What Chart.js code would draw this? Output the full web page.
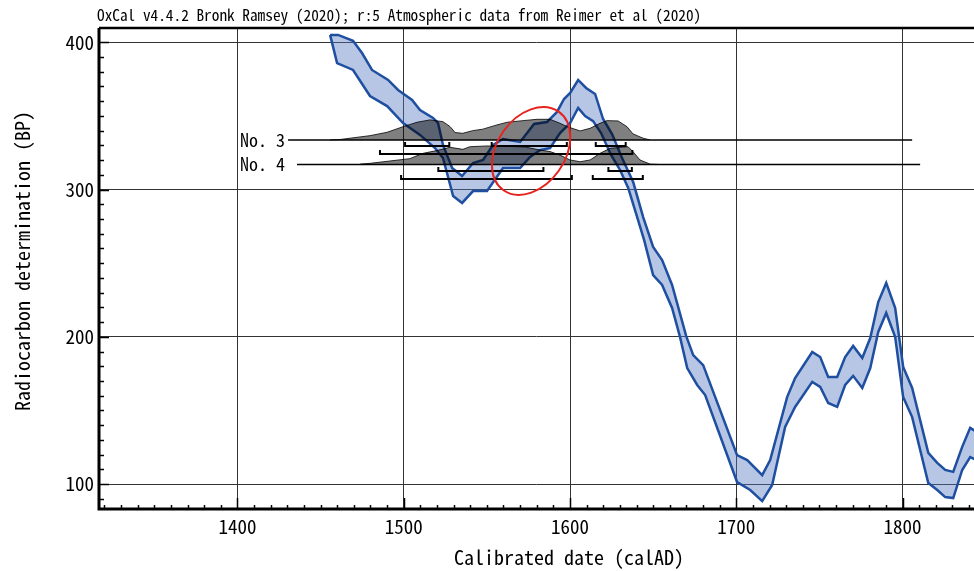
<!DOCTYPE html>
<html>
<head>
<meta charset="utf-8">
<script src="https://cdn.jsdelivr.net/npm/chart.js@4.4.1/dist/chart.umd.min.js"></script>
<style>
  html, body { margin: 0; padding: 0; background: #fff; }
  #wrap { width: 974px; height: 571px; }
</style>
</head>
<body>
<div id="wrap"><canvas id="oxcal" width="974" height="571"></canvas></div>
<script>
// calibration curve (IntCal20), upper and lower edge of the band
const upperYears = [1455.7,1460.5,1469.5,1474.9,1480.9,1490.6,1496.6,1505,1509.8,1517.6,1520.6,1523.6,1529.1,1535.1,1541.7,1547.7,1553.7,1559.7,1570,1578.4,1586.2,1592.2,1596.4,1600.1,1604.9,1609.7,1615.1,1619.9,1625.3,1631.3,1638,1644,1650,1655.4,1661.4,1669.9,1674.1,1680.1,1700.5,1706.6,1715.6,1720.4,1730.6,1735.4,1745.7,1750.5,1755.3,1760.7,1765.5,1770.3,1775.8,1780.6,1785.4,1790.2,1795.6,1800.4,1805.8,1815.5,1820.9,1825.7,1830.5,1835.9,1840.7,1844.4];
const upperBP = [405,405,401,392.7,381.2,374.4,367.6,360.8,354,348.6,345.2,330.3,314.6,309.2,318,320.1,330.3,334.3,332.3,344.5,345.9,352.7,361.5,365.6,374.4,369,364.9,347.9,337.7,321.4,305.1,281.3,261,252.1,235.2,200.5,187.6,180.8,119.7,116.3,106.1,116.3,159.1,172,189.7,186.3,172.7,172.7,186.3,193.8,185.6,199.2,223.6,236.6,219.6,179.5,165.3,121.2,114.4,109.6,108.3,125.3,138.2,135.5];
const lowerYears = [1455.7,1459.9,1469.5,1479.7,1490,1499.6,1509.8,1518.8,1523.6,1529.7,1535.1,1541.7,1550.1,1559.7,1570,1576,1582,1588,1594,1600.1,1604.9,1609.1,1613.9,1618.7,1624.7,1630.1,1635,1640.4,1644.6,1650,1655.4,1661.4,1666.2,1670.5,1676.5,1681.3,1700.5,1708.4,1715.6,1721.6,1729.4,1735.4,1745.7,1750.5,1755.3,1760.7,1765.5,1770.3,1775.8,1780.6,1785.4,1790.2,1795.6,1800.4,1805.8,1815.5,1820.9,1825.7,1830.5,1835.9,1840.7,1844.4];
const lowerBP = [405,385.9,381.2,363.5,356.7,345.2,337.1,328.2,321.4,295.6,290.9,299,299,314.6,314.6,322.1,326.8,328.2,338.4,345.2,355.4,349.9,346.5,338.4,323.5,313.3,301.1,281.3,265.7,241.9,235.2,219.6,199.8,178.8,167.3,160.5,101.4,96,88.5,99.4,138.8,152.4,169.4,166,155.1,152.4,167.3,173.5,165.3,178.8,203.3,216.2,199.8,159.1,145.5,100.7,96,91.2,90.5,109.6,118.4,116.3];

// samples
const sampleNames = ["No. 3", "No. 4"];
const sampleBP = [333.7, 317.0];
const sampleLineFrom = [1430.4, 1435.8];
const sampleLineTo = [1805.8, 1810.6];

// calibrated distributions (height in BP units above the sample line)
const no3Years = [1455.7,1461.7,1479.7,1490,1499.6,1508,1515.8,1523.6,1527.9,1530.9,1535.5,1541.5,1547.5,1556.1,1562.2,1571.8,1580.2,1588,1594,1598.3,1606.1,1612.1,1618.1,1622.3,1628.9,1634.3,1637.9,1643.9,1648.1];
const no3Prob = [0,0.3,2.9,5.2,9.0,12.0,13.6,12.4,9.0,5.0,4.5,6.3,7.3,10.2,12.0,13.1,14.0,14.0,11.3,9.0,6.1,7.9,11.3,13.1,12.9,9.0,4.1,1.2,0];
const no4Years = [1473.8,1479.7,1491.7,1503.7,1511.6,1520,1527.8,1535.6,1539.8,1550,1562.2,1573,1582,1588,1594,1600,1606.1,1612.1,1618.1,1624.1,1634.9,1637.9,1642.1,1648.1,1654.1];
const no4Prob = [0.3,0.8,2.4,4.0,7.6,9.5,11.7,10.3,12.1,12.6,12.3,11.9,9.8,8.8,6.4,3.1,1.9,3.1,7.6,11.0,12.1,8.7,3.1,0.3,0];

// 68.2% and 95.4% ranges (calAD)
const no3Range68 = [[1500.8,1527.4],[1552.9,1598.1],[1615.5,1633.5]];
const no3Range95 = [[1485.7,1637.5]];
const no4Range68 = [[1520.8,1584.0],[1623.1,1637.2]];
const no4Range95 = [[1498.4,1601.1],[1613.7,1643.8]];

// highlighted region (red ellipse centre)
const markYear = 1576.6;
const markBP = 326.2;

const xTicks = [1400, 1500, 1600, 1700, 1800];
const yTicks = [100, 200, 300, 400];

const FONT = "'Noto Sans Mono CJK JP', 'DejaVu Sans Mono', monospace";
const CURVE = "#1f4fa0";

function pts(xs, ys, base) {
  return xs.map((v, i) => ({ x: v, y: (base || 0) + ys[i] }));
}

const ranges68 = [no3Range68, no4Range68];
const ranges95 = [no3Range95, no4Range95];

const decor = {
  id: "decor",
  afterDatasetsDraw(chart) {
    const { ctx, chartArea: a, scales: { x, y } } = chart;
    ctx.save();
    ctx.beginPath();
    ctx.rect(a.left, a.top, a.right - a.left, a.bottom - a.top);
    ctx.clip();

    // range brackets
    ctx.strokeStyle = "#000";
    ctx.lineWidth = 2;
    sampleBP.forEach((bp, i) => {
      const base = y.getPixelForValue(bp);
      [[ranges68[i], 6], [ranges95[i], 14]].forEach(([list, off]) => {
        list.forEach(r => {
          const x0 = x.getPixelForValue(r[0]);
          const x1 = x.getPixelForValue(r[1]);
          const yy = Math.round(base + off);
          ctx.beginPath();
          ctx.moveTo(x0, yy - 4);
          ctx.lineTo(x0, yy);
          ctx.lineTo(x1, yy);
          ctx.lineTo(x1, yy - 4);
          ctx.stroke();
        });
      });
    });

    // sample labels
    ctx.fillStyle = "#000";
    ctx.font = "18px " + FONT;
    ctx.textAlign = "right";
    ctx.textBaseline = "middle";
    sampleBP.forEach((bp, i) => {
      ctx.fillText(sampleNames[i], 285, y.getPixelForValue(bp));
    });

    // red ellipse
    ctx.strokeStyle = "#e6231e";
    ctx.lineWidth = 2;
    ctx.beginPath();
    ctx.ellipse(x.getPixelForValue(markYear), y.getPixelForValue(markBP), 34, 48, 35 * Math.PI / 180, 0, Math.PI * 2);
    ctx.stroke();
    ctx.restore();
  },
  afterDraw(chart) {
    const { ctx, chartArea: a, scales: { x, y } } = chart;
    ctx.save();
    ctx.strokeStyle = "#000";

    // minor ticks
    ctx.lineWidth = 1.5;
    for (let v = 1320; v <= 1840; v += 10) {
      const px = Math.round(x.getPixelForValue(v)) + 0.5;
      const len = v % 100 === 0 ? 11 : 4;
      ctx.beginPath();
      ctx.moveTo(px, a.bottom);
      ctx.lineTo(px, a.bottom - len);
      ctx.stroke();
    }
    for (let v = 90; v <= 400; v += 10) {
      const py = Math.round(y.getPixelForValue(v)) + 0.5;
      const len = v % 100 === 0 ? 10 : 5;
      ctx.beginPath();
      ctx.moveTo(a.left, py);
      ctx.lineTo(a.left + len, py);
      ctx.stroke();
    }

    // frame
    ctx.lineWidth = 3;
    ctx.beginPath();
    ctx.moveTo(a.left, a.top);
    ctx.lineTo(a.left, a.bottom);
    ctx.lineTo(a.right, a.bottom);
    ctx.stroke();
    ctx.lineWidth = 2.5;
    ctx.beginPath();
    ctx.moveTo(a.left, a.top);
    ctx.lineTo(a.right, a.top);
    ctx.stroke();

    // texts
    ctx.fillStyle = "#000";
    ctx.textBaseline = "middle";
    ctx.font = "15.3px " + FONT;
    ctx.textAlign = "left";
    ctx.fillText("OxCal v4.4.2 Bronk Ramsey (2020); r:5 Atmospheric data from Reimer et al (2020)", 97, 15);
    ctx.font = "20px " + FONT;
    ctx.textAlign = "center";
    ctx.fillText("Calibrated date (calAD)", 569, 557);
    ctx.translate(22, 261);
    ctx.rotate(-Math.PI / 2);
    ctx.fillText("Radiocarbon determination (BP)", 0, 0);
    ctx.restore();
  }
};

const datasets = [
  {
    data: pts(upperYears, upperBP),
    borderColor: CURVE, borderWidth: 2.5, pointRadius: 0, fill: false, order: 3
  },
  {
    data: pts(lowerYears, lowerBP),
    borderColor: CURVE, borderWidth: 2.5, pointRadius: 0,
    fill: "-1", backgroundColor: "rgba(80,120,190,0.42)", order: 3
  }
];
[[no3Years, no3Prob], [no4Years, no4Prob]].forEach(([xs, ps], i) => {
  datasets.push({
    data: pts(xs, ps, sampleBP[i]),
    borderColor: "rgba(0,0,0,0.8)", borderWidth: 1, pointRadius: 0,
    fill: { value: sampleBP[i] }, backgroundColor: "rgba(0,0,0,0.5)", order: 2
  });
  datasets.push({
    data: [{ x: sampleLineFrom[i], y: sampleBP[i] }, { x: sampleLineTo[i], y: sampleBP[i] }],
    borderColor: "#000", borderWidth: 1.5, pointRadius: 0, fill: false, order: 1
  });
});

new Chart(document.getElementById("oxcal"), {
  type: "line",
  data: { datasets: datasets },
  plugins: [decor],
  options: {
    responsive: false,
    devicePixelRatio: 1,
    animation: false,
    layout: { padding: { top: 28, right: 0, left: 0, bottom: 0 } },
    elements: { line: { tension: 0 } },
    plugins: { legend: { display: false }, tooltip: { enabled: false }, title: { display: false } },
    scales: {
      x: {
        type: "linear", min: 1316.7, max: 1843,
        afterBuildTicks: s => { s.ticks = xTicks.map(v => ({ value: v })); },
        afterFit: s => { s.height = 62; },
        grid: { color: "#333", lineWidth: 1, drawTicks: false },
        border: { display: false },
        ticks: { color: "#000", font: { family: FONT, size: 19 }, padding: 6, maxRotation: 0, callback: v => String(v) }
      },
      y: {
        type: "linear", min: 83.1, max: 409.7,
        afterBuildTicks: s => { s.ticks = yTicks.map(v => ({ value: v })); },
        afterFit: s => { s.width = 99; },
        grid: { color: "#333", lineWidth: 1, drawTicks: false },
        border: { display: false },
        ticks: { color: "#000", font: { family: FONT, size: 19 }, padding: 5, callback: v => String(v) }
      }
    }
  }
});
</script>
</body>
</html>
